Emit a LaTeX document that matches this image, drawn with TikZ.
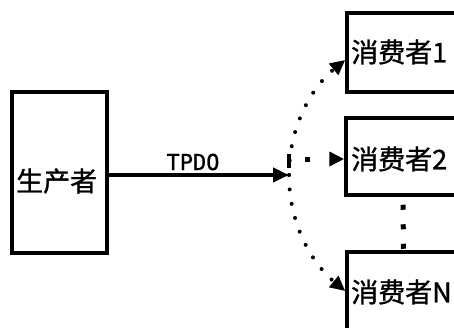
\documentclass[tikz,border=0pt]{standalone}
\usepackage{fontspec}
\newfontfamily\cjk[FakeBold=1.2]{Noto Sans CJK SC}
\newfontfamily\monof[FakeBold=1]{DejaVu Sans Mono}
\usetikzlibrary{arrows.meta}
\begin{document}
\begin{tikzpicture}[x=1pt,y=-1pt,
  box/.style={draw,line width=3.5pt,rectangle,inner sep=0pt},
  lbl/.style={font=\cjk\fontsize{27}{27}\selectfont,inner sep=0pt,anchor=west},
  dotc/.style={line width=4pt,line cap=round,dash pattern=on 0pt off 14.5pt},
  tip/.style={-{Triangle[length=15pt,width=14pt]}}
]
\useasboundingbox (0,0) rectangle (454,327);
% producer
\node[box,minimum width=95pt,minimum height=161pt] (prod) at (59.5,172.5) {};
\node[lbl] (prodt) at (16,181) {生产者};
% consumers
\node[box,minimum width=123pt,minimum height=79pt] (c1) at (408.5,52.5) {};
\node[box,minimum width=124pt,minimum height=77pt] (c2) at (408,156.5) {};
\node[box,minimum width=123pt,minimum height=100pt] (cN) at (408.5,302) {};
\node[lbl] (c1t) at (351,52) {消费者1};
\node[lbl] (c2t) at (351,159) {消费者2};
\node[lbl] (cNt) at (351,292) {消费者N};
% junction
\coordinate (jn) at (289,175);
\coordinate (jh) at (305,159);
\draw[line width=4pt,-{Triangle[length=16pt,width=14pt]}] (prod.east |- jn) -- (jn);
\node[font=\monof\fontsize{22}{22}\selectfont,inner sep=0pt] (tp) at (193,162) {TPDO};
% dotted curves
\draw[dotc,tip] (jn) .. controls (289,125) and (313,86) .. (c1.west |- 0,60);
\draw[dotc,tip] (jn) .. controls (289,228) and (315,266) .. (cN.west |- 0,291);
\draw[line width=5pt,dash pattern=on 5pt off 20pt,tip] (jh) -- (c2.west |- jh);
\draw[line width=4pt] (289,154) -- (289,168);
% vertical dots
\draw[line width=5pt,dash pattern=on 5pt off 14.5pt] ([xshift=-5pt]c2.south) ++(0,8) -- ([xshift=-5pt]cN.north);
\end{tikzpicture}
\end{document}
